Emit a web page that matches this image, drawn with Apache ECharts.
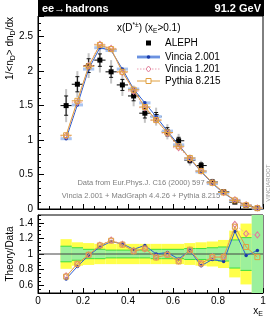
<!DOCTYPE html>
<html><head><meta charset="utf-8">
<script src="https://cdn.jsdelivr.net/npm/echarts@6/dist/echarts.min.js"></script>
<style>html,body{margin:0;padding:0;background:#fff}#c{width:277px;height:323px}</style>
</head><body><div id="c"></div>
<script>
// ---- data ----
const binLo = [0.10,0.15,0.20,0.25,0.30,0.35,0.40,0.45,0.50,0.55,0.60,0.65,0.70,0.75,0.80,0.85,0.90,0.95];
const binHi = [0.15,0.20,0.25,0.30,0.35,0.40,0.45,0.50,0.55,0.60,0.65,0.70,0.75,0.80,0.85,0.90,0.95,1.00];
const aleph     = [1.50,1.81,2.08,2.16,1.99,1.80,1.64,1.39,1.34,1.12,0.99,0.71,0.63,0.39,0.25,0.10,0.05,0.012];
const alephStat = [0.14,0.11,0.10,0.09,0.08,0.08,0.07,0.07,0.06,0.06,0.05,0.04,0.04,0.03,0.02,0.015,0.01,0.005];
const alephTot  = [0.24,0.19,0.18,0.18,0.17,0.16,0.15,0.14,0.13,0.11,0.10,0.08,0.07,0.05,0.04,0.03,0.02,0.01];
const vincia2 = [1.02,1.51,2.03,2.34,2.30,2.03,1.74,1.54,1.34,1.13,0.93,0.73,0.54,0.37,0.23,0.125,0.05,0.012];
const vincia1 = [1.06,1.55,2.08,2.39,2.33,1.98,1.71,1.47,1.29,1.10,0.89,0.73,0.55,0.38,0.24,0.135,0.063,0.015];
const pythia  = [1.07,1.57,2.07,2.38,2.32,1.99,1.73,1.48,1.29,1.11,0.91,0.74,0.55,0.38,0.24,0.125,0.055,0.012];
const ratioV2 = [0.68,0.84,0.98,1.09,1.16,1.13,1.06,1.11,1.00,1.02,0.935,1.045,0.85,0.93,0.905,1.29,0.98,1.045];
const ratioV1 = [0.72,0.87,0.99,1.115,1.18,1.125,1.04,1.065,0.96,0.995,0.91,1.05,0.875,0.965,0.965,1.38,1.26,1.245];
const ratioPy = [0.71,0.875,0.99,1.11,1.17,1.12,1.035,1.07,0.955,0.99,0.905,1.055,0.88,0.96,0.96,1.35,1.09,0.96];
const yellowLo = [0.81,0.85,0.86,0.87,0.87,0.87,0.87,0.87,0.87,0.87,0.87,0.86,0.85,0.84,0.82,0.70,0.61,0.30];
const yellowHi = [1.19,1.15,1.14,1.13,1.13,1.13,1.13,1.13,1.13,1.13,1.13,1.14,1.15,1.16,1.18,1.30,1.39,1.70];
const greenLo  = [0.90,0.92,0.94,0.94,0.95,0.95,0.95,0.95,0.94,0.94,0.94,0.93,0.93,0.92,0.91,0.82,0.79,0.30];
const greenHi  = [1.10,1.08,1.06,1.06,1.05,1.05,1.05,1.05,1.06,1.06,1.06,1.07,1.07,1.08,1.09,1.18,1.21,1.70];
const ratioTickLabels = [0.6,0.8,1,1.2,1.4];

const FONT = 'Liberation Sans, Arial, Helvetica, sans-serif';
const centers = binLo.map((l,i)=>(l+binHi[i])/2);
const RMIN = 0.5, RMAX = 1.5;
const clampR = v => Math.min(RMAX, Math.max(RMIN, v));

const C_BLUE = '#2f5fd0', C_BLUE_D = '#1a3aa8', C_BLUE_L = '#a9c4f0';
const C_PINK = '#e07b98', C_PINK_L = '#eaa0b4';
const C_ORNG = '#e0a040';

function dataRender(p, api){
  const lo=api.value(0), hi=api.value(1), y=api.value(2), s=api.value(3), t=api.value(4);
  const xc=(lo+hi)/2;
  const pL=api.coord([lo,y]), pR=api.coord([hi,y]), pC=api.coord([xc,y]);
  const tT=api.coord([xc,y+t]), tB=api.coord([xc,Math.max(0,y-t)]);
  const sT=api.coord([xc,y+s]), sB=api.coord([xc,Math.max(0,y-s)]);
  return {type:'group', children:[
    {type:'line', shape:{x1:tT[0],y1:tT[1],x2:tB[0],y2:tB[1]}, style:{stroke:'#c4c4c4',lineWidth:2}},
    {type:'line', shape:{x1:sT[0],y1:sT[1],x2:sB[0],y2:sB[1]}, style:{stroke:'#111',lineWidth:1}},
    {type:'line', shape:{x1:sT[0]-2,y1:sT[1],x2:sT[0]+2,y2:sT[1]}, style:{stroke:'#111',lineWidth:1}},
    {type:'line', shape:{x1:sB[0]-2,y1:sB[1],x2:sB[0]+2,y2:sB[1]}, style:{stroke:'#111',lineWidth:1}},
    {type:'line', shape:{x1:pL[0],y1:pL[1],x2:pR[0],y2:pR[1]}, style:{stroke:'#000',lineWidth:1}},
    {type:'rect', shape:{x:pC[0]-2.5,y:pC[1]-2.5,width:5,height:5}, style:{fill:'#000'}}
  ]};
}
function hbarRender(color, width, dash){
  return function(p, api){
    const lo=api.value(0), hi=api.value(1), y=api.value(2);
    const a=api.coord([lo,y]), b=api.coord([hi,y]);
    return {type:'line', shape:{x1:a[0],y1:a[1],x2:b[0],y2:b[1]}, style:{stroke:color,lineWidth:width,lineDash:dash||null}};
  };
}
function bandRender(fill, edge){
  return function(p, api){
    const lo=api.value(0), hi=api.value(1), yl=clampR(api.value(2)), yh=clampR(api.value(3));
    const a=api.coord([lo,yh]), b=api.coord([hi,yl]);
    const ch=[{type:'rect', shape:{x:a[0],y:a[1],width:b[0]-a[0],height:b[1]-a[1]}, style:{fill:fill}}];
    if(edge){
      if(api.value(3) < RMAX) ch.push({type:'line', shape:{x1:a[0],y1:a[1],x2:b[0],y2:a[1]}, style:{stroke:edge,lineWidth:1}});
      if(api.value(2) > RMIN) ch.push({type:'line', shape:{x1:a[0],y1:b[1],x2:b[0],y2:b[1]}, style:{stroke:edge,lineWidth:1}});
    }
    return {type:'group', children:ch};
  };
}

const axisCommon = {
  axisLine:{show:true, lineStyle:{color:'#000', width:1}},
  splitLine:{show:false}
};

const chart = echarts.init(document.getElementById('c'), null, {renderer:'canvas'});
const option = {
  animation:false,
  textStyle:{fontFamily:FONT},
  grid:[
    {left:38, top:16, width:225, height:193, show:true, borderColor:'#000', borderWidth:1, backgroundColor:'transparent'},
    {left:38, top:215, width:225, height:78, show:true, borderColor:'#000', borderWidth:1, backgroundColor:'transparent'}
  ],
  xAxis:[
    Object.assign({gridIndex:0, type:'value', min:0, max:1, interval:0.2,
      axisTick:{inside:true, length:5, lineStyle:{color:'#000'}},
      minorTick:{show:true, splitNumber:4, length:3, lineStyle:{color:'#000'}},
      axisLabel:{show:false}}, axisCommon),
    Object.assign({gridIndex:1, type:'value', min:0, max:1, interval:0.2,
      axisTick:{inside:true, length:5, lineStyle:{color:'#000'}},
      minorTick:{show:true, splitNumber:4, length:3, lineStyle:{color:'#000'}},
      axisLabel:{show:true, fontSize:10, color:'#000', margin:3, fontFamily:FONT}}, axisCommon)
  ],
  yAxis:[
    Object.assign({gridIndex:0, type:'value', min:0, max:2.8, interval:0.5,
      axisTick:{inside:true, length:6, lineStyle:{color:'#000'}},
      minorTick:{show:true, splitNumber:5, length:3, lineStyle:{color:'#000'}},
      axisLabel:{show:true, fontSize:10, color:'#000', margin:5, showMaxLabel:false, fontFamily:FONT}}, axisCommon),
    Object.assign({gridIndex:1, type:'value', min:0.5, max:1.5, interval:0.05,
      axisTick:{inside:true, length:3, lineStyle:{color:'#000'}},
      axisLabel:{show:true, fontSize:10, color:'#000', margin:5, customValues:ratioTickLabels, fontFamily:FONT}}, axisCommon),
    {gridIndex:1, type:'value', min:0.5, max:1.5, position:'left',
      axisLine:{show:false}, splitLine:{show:false}, axisLabel:{show:false},
      axisTick:{show:true, inside:true, length:6, customValues:ratioTickLabels, lineStyle:{color:'#000'}}}
  ],
  series:[
    // main panel: data
    {type:'custom', xAxisIndex:0, yAxisIndex:0, z:2, renderItem:dataRender, encode:{x:[0,1], y:2},
      data: aleph.map((v,i)=>[binLo[i],binHi[i],v,alephStat[i],alephTot[i]])},
    // MC bin bars
    {type:'custom', xAxisIndex:0, yAxisIndex:0, z:3, renderItem:hbarRender(C_BLUE_L,3), encode:{x:[0,1], y:2},
      data: vincia2.map((v,i)=>[binLo[i],binHi[i],v])},
    {type:'line', xAxisIndex:0, yAxisIndex:0, z:4, data: centers.map((c,i)=>[c,vincia2[i]]),
      symbol:'circle', symbolSize:3.5, showAllSymbol:true, lineStyle:{color:C_BLUE,width:1}, itemStyle:{color:C_BLUE_D}},
    {type:'custom', xAxisIndex:0, yAxisIndex:0, z:5, renderItem:hbarRender(C_PINK_L,1,[1.5,1.5]), encode:{x:[0,1], y:2},
      data: vincia1.map((v,i)=>[binLo[i],binHi[i],v])},
    {type:'line', xAxisIndex:0, yAxisIndex:0, z:6, data: centers.map((c,i)=>[c,vincia1[i]]),
      symbol:'diamond', symbolSize:[5,6], showAllSymbol:true, lineStyle:{color:C_PINK_L,width:1,type:[1.5,1.5]},
      itemStyle:{color:'rgba(255,255,255,0)', borderColor:C_PINK, borderWidth:1}},
    {type:'custom', xAxisIndex:0, yAxisIndex:0, z:7, renderItem:hbarRender(C_ORNG,1), encode:{x:[0,1], y:2},
      data: pythia.map((v,i)=>[binLo[i],binHi[i],v])},
    {type:'line', xAxisIndex:0, yAxisIndex:0, z:8, data: centers.map((c,i)=>[c,pythia[i]]),
      symbol:'rect', symbolSize:5, showAllSymbol:true, lineStyle:{color:C_ORNG,width:1},
      itemStyle:{color:'rgba(255,255,255,0)', borderColor:C_ORNG, borderWidth:1}},
    // ratio panel bands
    {type:'custom', xAxisIndex:1, yAxisIndex:1, z:1, renderItem:bandRender('#ffff4a',null), encode:{x:[0,1], y:[2,3]},
      data: yellowLo.map((v,i)=>[binLo[i],binHi[i],v,yellowHi[i]])},
    {type:'custom', xAxisIndex:1, yAxisIndex:1, z:2, renderItem:bandRender('#9cf09c','#3ee03e'), encode:{x:[0,1], y:[2,3]},
      data: greenLo.map((v,i)=>[binLo[i],binHi[i],v,greenHi[i]])},
    {type:'line', xAxisIndex:1, yAxisIndex:1, z:3, data:[[0,1],[1,1]], symbol:'none', lineStyle:{color:'#444',width:1}},
    {type:'line', xAxisIndex:1, yAxisIndex:1, z:4, data: centers.map((c,i)=>[c,ratioV2[i]]),
      symbol:'circle', symbolSize:3.5, showAllSymbol:true, lineStyle:{color:C_BLUE,width:1}, itemStyle:{color:C_BLUE_D}},
    {type:'line', xAxisIndex:1, yAxisIndex:1, z:5, data: centers.map((c,i)=>[c,ratioV1[i]]),
      symbol:'diamond', symbolSize:[5,6], showAllSymbol:true, lineStyle:{color:C_PINK_L,width:1,type:[1.5,1.5]},
      itemStyle:{color:'rgba(255,255,255,0)', borderColor:C_PINK, borderWidth:1}},
    {type:'line', xAxisIndex:1, yAxisIndex:1, z:6, data: centers.map((c,i)=>[c,ratioPy[i]]),
      symbol:'rect', symbolSize:5, showAllSymbol:true, lineStyle:{color:C_ORNG,width:1},
      itemStyle:{color:'rgba(255,255,255,0)', borderColor:C_ORNG, borderWidth:1}}
  ],
  graphic:[
    {type:'rect', shape:{x:38,y:0,width:226,height:16}, style:{fill:'#000'}, z:100},
    {type:'text', x:42, y:8.5, z:101, style:{text:'ee→hadrons', fill:'#fff', font:'bold 11px '+FONT, verticalAlign:'middle'}},
    {type:'text', x:261, y:8.5, z:101, style:{text:'91.2 GeV', fill:'#fff', font:'bold 11px '+FONT, align:'right', verticalAlign:'middle'}},
    // legend title
    {type:'text', x:117, y:28, z:101, style:{
      text:'{a|x(D}{sup|*±}{a|) (x}{sub|E}{a|>0.1)}', verticalAlign:'middle',
      rich:{a:{fontSize:10,fontFamily:FONT,fill:'#000'}, sup:{fontSize:6.5,fontFamily:FONT,fill:'#000',verticalAlign:'top',padding:[0,0,6,0]}, sub:{fontSize:6.5,fontFamily:FONT,fill:'#000',padding:[6,0,0,0]}}}},
    // legend entries
    {type:'rect', shape:{x:146,y:40.5,width:5,height:5}, style:{fill:'#000'}, z:101},
    {type:'text', x:165, y:43, z:101, style:{text:'ALEPH', font:'10px '+FONT, fill:'#000', verticalAlign:'middle'}},
    {type:'line', shape:{x1:137,y1:57,x2:160,y2:57}, style:{stroke:C_BLUE_L,lineWidth:3.5}, z:101},
    {type:'line', shape:{x1:137,y1:57,x2:160,y2:57}, style:{stroke:C_BLUE,lineWidth:1}, z:102},
    {type:'circle', shape:{cx:148.5,cy:57,r:1.8}, style:{fill:C_BLUE_D}, z:103},
    {type:'text', x:165, y:57, z:101, style:{text:'Vincia 2.001', font:'10px '+FONT, fill:'#000', verticalAlign:'middle'}},
    {type:'line', shape:{x1:137,y1:69,x2:160,y2:69}, style:{stroke:C_PINK_L,lineWidth:1,lineDash:[1.5,1.5]}, z:101},
    {type:'polygon', shape:{points:[[148.5,66],[151,69],[148.5,72],[146,69]]}, style:{fill:'#fff',stroke:C_PINK,lineWidth:1}, z:102},
    {type:'text', x:165, y:69, z:101, style:{text:'Vincia 1.201', font:'10px '+FONT, fill:'#000', verticalAlign:'middle'}},
    {type:'line', shape:{x1:137,y1:81,x2:160,y2:81}, style:{stroke:C_ORNG,lineWidth:1}, z:101},
    {type:'rect', shape:{x:146,y:78.5,width:5,height:5}, style:{fill:'#fff',stroke:C_ORNG,lineWidth:1}, z:102},
    {type:'text', x:165, y:81, z:101, style:{text:'Pythia 8.215', font:'10px '+FONT, fill:'#000', verticalAlign:'middle'}},
    // info texts
    {type:'text', x:141, y:183, z:1, style:{text:'Data from Eur.Phys.J. C16 (2000) 597', font:'7.5px '+FONT, fill:'#808080', align:'center', verticalAlign:'middle'}},
    {type:'text', x:141, y:196, z:1, style:{text:'Vincia 2.001 + MadGraph 4.4.26 + Pythia 8.215', font:'7.5px '+FONT, fill:'#808080', align:'center', verticalAlign:'middle'}},
    {type:'text', x:268, y:183, rotation:Math.PI/2, z:101, style:{text:'VINCIAROOT', font:'6px '+FONT, fill:'#999', align:'center', verticalAlign:'middle'}},
    // axis titles
    {type:'text', x:10, y:17, rotation:Math.PI/2, z:101, style:{
      text:'{a|1/<n}{s|D}{a|> dn}{s|D}{a|/dx}', align:'right', verticalAlign:'middle',
      rich:{a:{fontSize:10,fontFamily:FONT,fill:'#000'}, s:{fontSize:7,fontFamily:FONT,fill:'#000',padding:[6,0,0,0]}}}},
    {type:'text', x:10, y:254, rotation:Math.PI/2, z:101, style:{text:'Theory/Data', font:'10px '+FONT, fill:'#000', align:'center', verticalAlign:'middle'}},
    {type:'text', x:263, y:311, z:101, style:{
      text:'{a|x}{s|E}', align:'right', verticalAlign:'middle',
      rich:{a:{fontSize:10,fontFamily:FONT,fill:'#000'}, s:{fontSize:7,fontFamily:FONT,fill:'#000',padding:[6,0,0,0]}}}}
  ]
};
chart.setOption(option);
</script>
</body></html>
